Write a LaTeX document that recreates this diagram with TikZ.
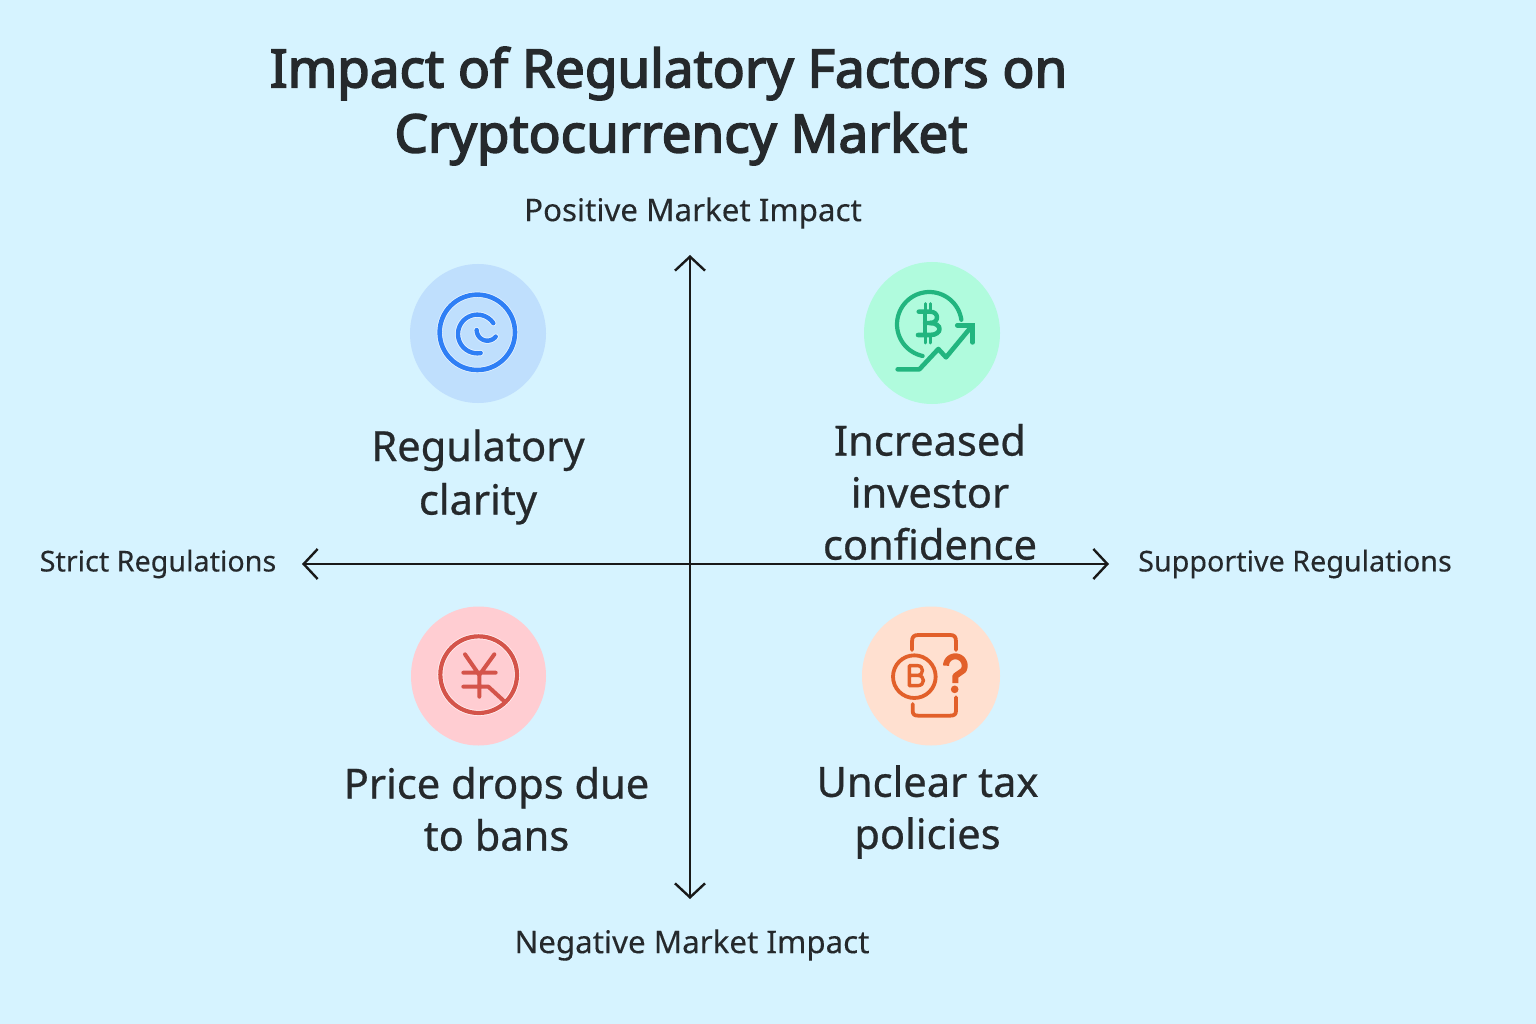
\documentclass[tikz,border=0pt]{standalone}
\usepackage{fontspec}
\setmainfont{Noto Sans}
\newfontfamily\titlefont{Noto Sans}[FakeBold=3]
\newfontfamily\quadfont{Noto Sans}[FakeBold=0.6]
\newfontfamily\axisfont{Noto Sans}[FakeBold=0.2]
\usetikzlibrary{arrows.meta,shapes.geometric}
\definecolor{bgc}{HTML}{D6F3FF}
\definecolor{inkc}{HTML}{25292C}
\definecolor{bluec}{HTML}{2F7FF5}
\definecolor{blued}{HTML}{BFDFFD}
\definecolor{greenc}{HTML}{22B57F}
\definecolor{greend}{HTML}{B0FBDD}
\definecolor{redc}{HTML}{D4544A}
\definecolor{redd}{HTML}{FFCDD2}
\definecolor{orangec}{HTML}{E2602A}
\definecolor{oranged}{HTML}{FFE0D0}
\newcommand{\arcpx}[6][]{\draw[#1] plot[domain=#5:#6,samples=48,smooth] ({#2+#4*cos(\x)},{#3-#4*sin(\x)});}
\tikzset{
 axis/.style={draw=black!90,line width=2.4pt,{Straight Barb[length=14pt,width=30pt,line width=2.4pt]}-{Straight Barb[length=14pt,width=30pt,line width=2.4pt]}},
 axlabel/.style={text=inkc,font=\axisfont\fontsize{31.3}{36}\selectfont,inner sep=0pt},
 sidelabel/.style={text=inkc,font=\axisfont\fontsize{28.7}{36}\selectfont,inner sep=0pt},
 quadlabel/.style={text=inkc,font=\quadfont\fontsize{41.6}{52}\selectfont,align=center,inner sep=0pt},
 titlelabel/.style={text=inkc,font=\titlefont\fontsize{53}{65}\selectfont,align=center,inner sep=0pt},
 disc/.style={inner sep=0pt,minimum width=136pt,minimum height=139pt,shape=ellipse},
 halo/.style={white,opacity=.7,line width=#1,line cap=round,line join=round},
 stroke/.style={line width=#1,line cap=round,line join=round}
}
\begin{document}
\begin{tikzpicture}[x=1pt,y=-1pt]
\useasboundingbox (0,0) rectangle (1536,1024);
\fill[bgc] (0,0) rectangle (1536,1024);

\node[titlelabel] (title) at (668.5,106) {Impact of Regulatory Factors on\\\hspace*{25pt}Cryptocurrency Market};

\node[axlabel] (pos) at (693,213) {Positive Market Impact};
\node[axlabel] (neg) at (692,945) {Negative Market Impact};
\node[sidelabel] (strict) at (158,564) {Strict Regulations};
\node[sidelabel] (supp) at (1295,564) {Supportive Regulations};

\coordinate (top) at (690,255);
\coordinate (bottom) at (690,899);
\coordinate (left) at (302,564);
\coordinate (right) at (1109,564);
\draw[axis] (left) -- (right);
\draw[axis] (bottom) -- (top);

\node[disc,fill=blued] (d1) at (478,333.5) {};
\node[disc,fill=greend,minimum height=142pt] (d2) at (932,333) {};
\node[disc,fill=redd,minimum width=135pt] (d3) at (478.5,676) {};
\node[disc,fill=oranged,minimum width=138pt] (d4) at (931,676) {};

% blue icon
\begin{scope}[shift={(400,255)},scale=1/3]
 \draw[white,opacity=.7,line width=6pt] (232,232) circle (113);
 \arcpx[halo=6pt]{232}{237}{58}{34}{280}
 \arcpx[halo=6pt]{262}{225}{32}{180}{322}
 \draw[bluec,line width=4.6pt] (232,232) circle (113);
 \arcpx[bluec,stroke=4.4pt]{232}{237}{58}{34}{280}
 \arcpx[bluec,stroke=4.4pt]{262}{225}{32}{180}{322}
\end{scope}

% green icon
\begin{scope}[shift={(850,255)},scale=1/3]
 \begin{scope}[greenc]
 \arcpx[stroke=4.2pt]{238}{208}{97}{8}{258}
 \draw[stroke=4.6pt] (143,343) -- (208,343) -- (265,282) -- (288,307) -- (360,220);
 \draw[line width=4.8pt,line cap=round,miter limit=4] (322,211) -- (368,211) -- (368,262);
 \draw[stroke=4.4pt] (206,170) -- (240,170) .. controls (268,170) and (268,204) .. (240,204) -- (225,204);
 \draw[stroke=4.6pt] (240,204) .. controls (278,204) and (278,240) .. (240,240) -- (204,240);
 \draw[stroke=4.6pt] (225,170) -- (225,240);
 \draw[stroke=3pt] (227,146) -- (227,168) (242,146) -- (242,168) (227,242) -- (227,264) (242,242) -- (242,264);
 \end{scope}
\end{scope}

% red icon
\begin{scope}[shift={(400,600)},scale=1/3]
 \draw[white,opacity=.7,line width=5.8pt] (236,224) circle (115);
 \draw[redc,line width=4.2pt] (236,224) circle (115);
 \draw[redc,stroke=4pt] (195,163) -- (238,225) -- (283,163) (238,225) -- (238,290)
   (190,218) -- (287,218) (190,260) -- (265,260) -- (314,305);
\end{scope}

% orange icon
\begin{scope}[shift={(850,600)},scale=1/3]
 \begin{scope}[orangec]
 \draw[stroke=3.8pt] (186,150) -- (186,125) .. controls (186,110) and (192,105) .. (205,105) -- (300,105) .. controls (313,105) and (318,110) .. (318,125) -- (318,150);
 \draw[stroke=3.8pt] (188,312) -- (188,332) .. controls (188,343) and (193,347) .. (205,347) -- (300,347) .. controls (313,347) and (318,343) .. (318,332) -- (318,292);
 \draw[line width=3.8pt] (193,230) circle (64);
 \draw[stroke=3.4pt] (178,197) -- (178,257) -- (203,257) .. controls (226,257) and (226,226) .. (203,226) -- (178,226) (178,197) -- (203,197) .. controls (222,197) and (222,226) .. (203,226);
 \draw[line width=6pt,line join=round] plot[domain=180:-30,samples=24,smooth] ({316+28*cos(\x)},{197-28*sin(\x)}) -- (316,228) -- (316,249);
 \fill (314,268) circle (11.5);
 \end{scope}
\end{scope}

\node[quadlabel] (q1) at (478,477) {Regulatory\\[1.5pt]clarity};
\node[quadlabel] (q2) at (930,492) {Increased\\investor\\confidence};
\node[quadlabel] (q3) at (496.5,809) {Price drops due\\to bans};
\node[quadlabel] (q4) at (927.5,812) {Unclear tax\\policies};
\end{tikzpicture}
\end{document}
